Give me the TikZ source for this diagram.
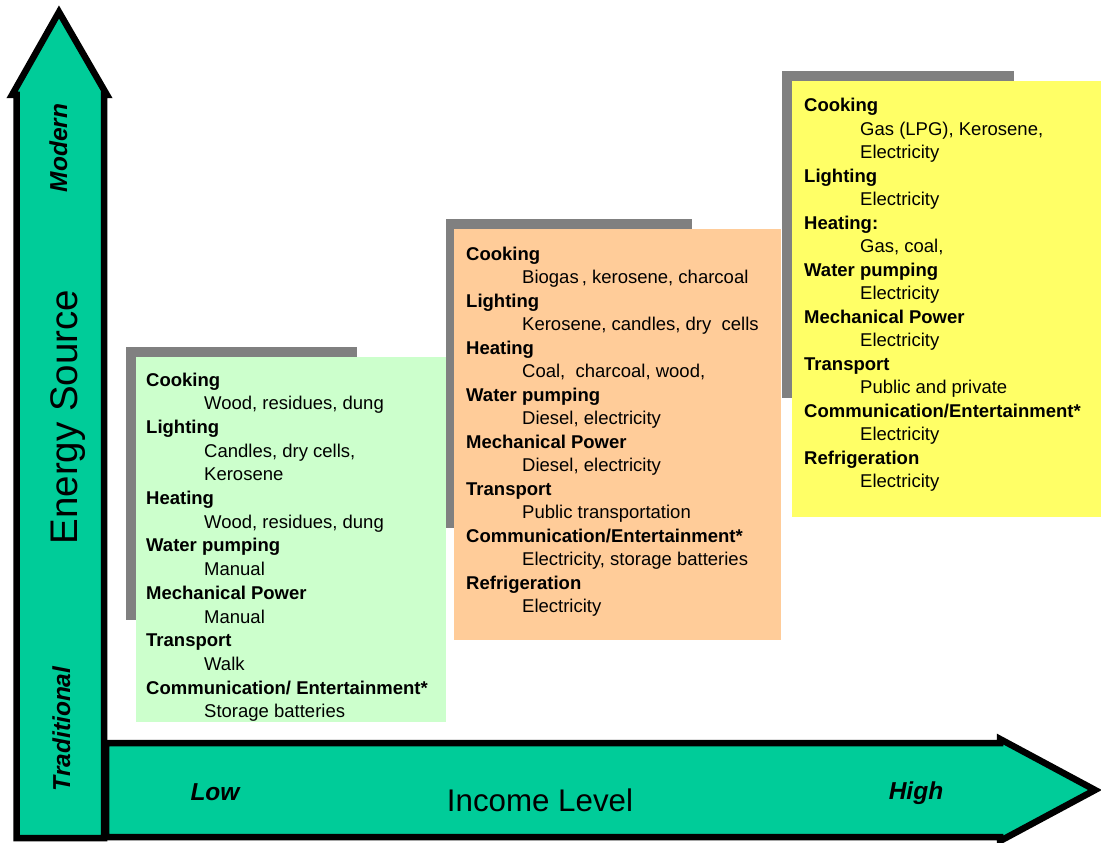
\documentclass[tikz,border=0pt]{standalone}
\usepackage{fontspec}
\setmainfont{Liberation Sans}
\definecolor{arrowgreen}{RGB}{0,204,153}
\definecolor{shadowgray}{RGB}{128,128,128}
\definecolor{lowfill}{RGB}{204,255,204}
\definecolor{midfill}{RGB}{255,204,153}
\definecolor{highfill}{RGB}{255,255,102}
\begin{document}
\begin{tikzpicture}[x=1pt,y=-1pt,
  head/.style={anchor=base west, inner sep=0pt, font=\fontsize{18.5}{22}\selectfont\bfseries},
  item/.style={anchor=base west, inner sep=0pt, font=\fontsize{18.5}{22}\selectfont},
  shade/.style={fill=shadowgray, draw=none, anchor=north west, inner sep=0pt},
  panel/.style={draw=none, anchor=north west, inner sep=0pt},
  arrowbody/.style={fill=arrowgreen, draw=black, line width=6.5pt, line join=miter},
  axisword/.style={inner sep=0pt, anchor=base, font=\fontsize{24.5}{28}\selectfont\bfseries\itshape},
  axistitle/.style={inner sep=0pt, anchor=base}
]
\useasboundingbox (0,0) rectangle (1101,843);

% income axis (horizontal arrow)
\draw[arrowbody] (106,743) -- (1000,743) -- (1000,739) -- (1095,790)
  -- (1000,841) -- (1000,837) -- (106,837) -- cycle;

% energy axis (vertical arrow)
\draw[arrowbody] (16.5,838) -- (16.5,95) -- (12,95) -- (59,12)
  -- (107,95) -- (104,95) -- (104,838) -- cycle;

% axis labels
\node[axisword, rotate=90] (modern) at (67,148) {Modern};
\node[axistitle, rotate=90, font=\fontsize{38.5}{42}\selectfont] (energy) at (77,417) {Energy Source};
\node[axisword, rotate=90] (traditional) at (70,729) {Traditional};
\node[axisword] (low) at (215,800) {Low};
\node[axistitle, font=\fontsize{31.3}{34}\selectfont] (income) at (540,811) {Income Level};
\node[axisword] (high) at (916,799) {High};

% low income panel
\node[shade, minimum width=231pt, minimum height=273pt] (lowshade) at (126,347) {};
\node[panel, fill=lowfill, minimum width=310pt, minimum height=365pt] (lowpanel) at (136,357) {};
\begin{scope}[shift={(146pt,-386pt)}, y=-23.7pt]
\node[head] (g0) at (0,0) {Cooking};
\node[item] (g1) at (58,1) {Wood, residues, dung};
\node[head] (g2) at (0,2) {Lighting};
\node[item] (g3) at (58,3) {Candles, dry cells,};
\node[item] (g4) at (58,4) {Kerosene};
\node[head] (g5) at (0,5) {Heating};
\node[item] (g6) at (58,6) {Wood, residues, dung};
\node[head] (g7) at (0,7) {Water pumping};
\node[item] (g8) at (58,8) {Manual};
\node[head] (g9) at (0,9) {Mechanical Power};
\node[item] (g10) at (58,10) {Manual};
\node[head] (g11) at (0,11) {Transport};
\node[item] (g12) at (58,12) {Walk};
\node[head] (g13) at (0,13) {Communication/ Entertainment*};
\node[item] (g14) at (58,14) {Storage batteries};
\end{scope}

% middle income panel
\node[shade, minimum width=246pt, minimum height=309pt] (midshade) at (446,219) {};
\node[panel, fill=midfill, minimum width=327pt, minimum height=411pt] (midpanel) at (454,229) {};
\begin{scope}[shift={(466pt,-260pt)}, y=-23.5pt]
\node[head] (o0) at (0,0) {Cooking};
\node[item] (o1) at (56,1) {Biogas\,, kerosene, charcoal};
\node[head] (o2) at (0,2) {Lighting};
\node[item] (o3) at (56,3) {Kerosene, candles, dry\ \ cells};
\node[head] (o4) at (0,4) {Heating};
\node[item] (o5) at (56,5) {Coal,\ \ charcoal, wood,};
\node[head] (o6) at (0,6) {Water pumping};
\node[item] (o7) at (56,7) {Diesel, electricity};
\node[head] (o8) at (0,8) {Mechanical Power};
\node[item] (o9) at (56,9) {Diesel, electricity};
\node[head] (o10) at (0,10) {Transport};
\node[item] (o11) at (56,11) {Public transportation};
\node[head] (o12) at (0,12) {Communication/Entertainment*};
\node[item] (o13) at (56,13) {Electricity, storage batteries};
\node[head] (o14) at (0,14) {Refrigeration};
\node[item] (o15) at (56,15) {Electricity};
\end{scope}

% high income panel
\node[shade, minimum width=232pt, minimum height=327pt] (highshade) at (782,71) {};
\node[panel, fill=highfill, minimum width=309pt, minimum height=436pt] (highpanel) at (792,81) {};
\begin{scope}[shift={(804pt,-111.7pt)}, y=-23.5pt]
\node[head] (y0) at (0,0) {Cooking};
\node[item] (y1) at (56,1) {Gas (LPG), Kerosene,};
\node[item] (y2) at (56,2) {Electricity};
\node[head] (y3) at (0,3) {Lighting};
\node[item] (y4) at (56,4) {Electricity};
\node[head] (y5) at (0,5) {Heating:};
\node[item] (y6) at (56,6) {Gas, coal,};
\node[head] (y7) at (0,7) {Water pumping};
\node[item] (y8) at (56,8) {Electricity};
\node[head] (y9) at (0,9) {Mechanical Power};
\node[item] (y10) at (56,10) {Electricity};
\node[head] (y11) at (0,11) {Transport};
\node[item] (y12) at (56,12) {Public and private};
\node[head] (y13) at (0,13) {Communication/Entertainment*};
\node[item] (y14) at (56,14) {Electricity};
\node[head] (y15) at (0,15) {Refrigeration};
\node[item] (y16) at (56,16) {Electricity};
\end{scope}
\end{tikzpicture}
\end{document}
